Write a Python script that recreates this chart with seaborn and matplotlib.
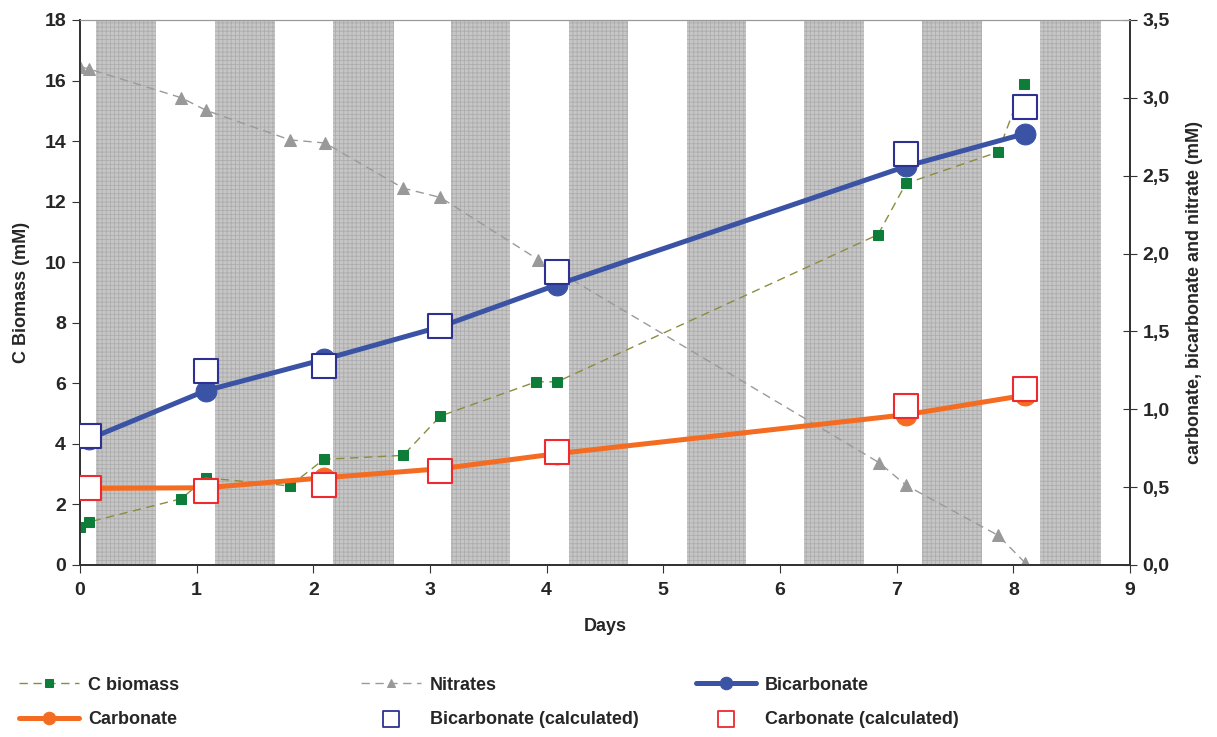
import numpy as np
import pandas as pd
import matplotlib
matplotlib.use("Agg")
import matplotlib.pyplot as plt
from matplotlib.lines import Line2D
from matplotlib.ticker import FuncFormatter, MultipleLocator
import seaborn as sns

# --- data ---
# dark periods (shaded bands), in days
night_start = [0.14, 1.16, 2.17, 3.18, 4.19, 5.20, 6.21, 7.22, 8.23]
night_end = [0.65, 1.67, 2.69, 3.69, 4.70, 5.71, 6.72, 7.73, 8.75]

# C biomass (left axis, mM)
bio_days = [0.0, 0.08, 0.87, 1.08, 1.80, 2.09, 2.77, 3.09, 3.91, 4.09, 6.84, 7.08, 7.87, 8.09]
bio_val = [1.25, 1.42, 2.19, 2.88, 2.61, 3.49, 3.62, 4.92, 6.05, 6.05, 10.91, 12.60, 13.64, 15.90]

# nitrates (right axis, mM)
nit_days = [0.0, 0.08, 0.87, 1.08, 1.80, 2.10, 2.77, 3.09, 3.93, 6.85, 7.08, 7.87, 8.10]
nit_val = [3.20, 3.185, 3.00, 2.92, 2.73, 2.71, 2.42, 2.36, 1.96, 0.657, 0.512, 0.19, 0.015]

# bicarbonate / carbonate measured and calculated (right axis, mM)
carb_days = [0.08, 1.08, 2.09, 3.09, 4.09, 7.08, 8.10]
bicarb_val = [0.81, 1.12, 1.32, 1.53, 1.80, 2.56, 2.77]
bicarb_calc = [0.83, 1.245, 1.277, 1.534, 1.88, 2.64, 2.944]
carb_val = [0.492, 0.496, 0.56, 0.618, 0.715, 0.965, 1.09]
carb_calc = [0.492, 0.475, 0.513, 0.603, 0.725, 1.021, 1.133]

sns.set_style("ticks")
plt.rcParams["font.family"] = ["Liberation Sans", "DejaVu Sans"]
plt.rcParams["font.weight"] = "bold"
plt.rcParams["hatch.linewidth"] = 0.6

fig = plt.figure(figsize=(12.17, 7.37), dpi=100)
ax = fig.add_axes([0.0657, 0.2334, 0.8628, 0.7395])
ax2 = ax.twinx()

# night bands
for s, e in zip(night_start, night_end):
    ax.axvspan(s, e, facecolor="#c6c6c6", edgecolor="#adadad", hatch="++++",
               lw=0, zorder=0)

# left axis: C biomass
sns.lineplot(x=bio_days, y=bio_val, ax=ax, color="#8c8c3c", lw=1, linestyle=(0, (6, 4)),
             marker="s", markersize=7, markerfacecolor="#0e7d3a", markeredgecolor="#0e7d3a",
             label="C biomass", sort=False, zorder=3)

# right axis
sns.lineplot(x=nit_days, y=nit_val, ax=ax2, color="#9a9a9a", lw=1, linestyle=(0, (6, 4)),
             marker="^", markersize=8, markerfacecolor="#999999", markeredgecolor="#999999",
             label="Nitrates", sort=False)
sns.lineplot(x=carb_days, y=bicarb_val, ax=ax2, color="#3a53a4", lw=3.6,
             marker="o", markersize=15, markeredgecolor="#3a53a4",
             label="Bicarbonate", sort=False)
sns.lineplot(x=carb_days, y=carb_val, ax=ax2, color="#f36c21", lw=3.6,
             marker="o", markersize=15, markeredgecolor="#f36c21",
             label="Carbonate", sort=False)
sns.scatterplot(x=carb_days, y=bicarb_calc, ax=ax2, marker="s", s=300,
                facecolor="white", edgecolor="#2e3192", linewidth=1.5,
                label="Bicarbonate (calculated)", zorder=5)
sns.scatterplot(x=carb_days, y=carb_calc, ax=ax2, marker="s", s=300,
                facecolor="white", edgecolor="#ee2a2f", linewidth=1.5,
                label="Carbonate (calculated)", zorder=5)

for a in (ax, ax2):
    if a.get_legend() is not None:
        a.get_legend().remove()

ax.set_xlim(0, 9)
ax.set_ylim(0, 18)
ax2.set_ylim(0, 3.5)
ax.xaxis.set_major_locator(MultipleLocator(1))
ax.yaxis.set_major_locator(MultipleLocator(2))
ax2.yaxis.set_major_locator(MultipleLocator(0.5))
ax2.yaxis.set_major_formatter(FuncFormatter(lambda v, p: f"{v:.1f}".replace(".", ",")))

ax.set_xlabel("Days", fontsize=13, fontweight="bold", labelpad=14)
ax.set_ylabel("C Biomass (mM)", fontsize=13, fontweight="bold", labelpad=10)
ax2.set_ylabel("carbonate, bicarbonate and nitrate (mM)", fontsize=13, fontweight="bold",
               labelpad=12)

ax.tick_params(axis="both", labelsize=14, direction="out", length=6, color="#333333", pad=6)
ax.tick_params(axis="y", pad=4)
ax2.tick_params(axis="y", labelsize=14, direction="inout", length=10, color="#333333", pad=4)
for lab in ax.get_xticklabels() + ax.get_yticklabels() + ax2.get_yticklabels():
    lab.set_fontweight("bold")

for a in (ax, ax2):
    a.spines["top"].set_visible(True)
    a.spines["top"].set_color("#999999")
    a.spines["left"].set_color("#333333")
    a.spines["right"].set_color("#333333")
    a.spines["bottom"].set_color("#333333")
    a.spines["left"].set_linewidth(1.3)
    a.spines["right"].set_linewidth(1.3)
    a.spines["bottom"].set_linewidth(1.3)

# legends: three columns of two entries
h1, l1 = ax.get_legend_handles_labels()
h2, l2 = ax2.get_legend_handles_labels()
hd = dict(zip(l1 + l2, h1 + h2))
legend_msize = {"C biomass": 6, "Nitrates": 6, "Bicarbonate": 9, "Carbonate": 9}
cols = [(["C biomass", "Carbonate"], 0.016),
        (["Nitrates", "Bicarbonate (calculated)"], 0.297),
        (["Bicarbonate", "Carbonate (calculated)"], 0.572)]
for labels, xpos in cols:
    leg = fig.legend([hd[k] for k in labels], labels, loc="center left",
                     bbox_to_anchor=(xpos, 0.047), frameon=False, fontsize=13,
                     handlelength=3.3, handletextpad=0.5, labelspacing=0.95,
                     borderpad=0, borderaxespad=0)
    for t in leg.get_texts():
        t.set_fontweight("bold")
    for h, k in zip(leg.legend_handles, labels):
        if isinstance(h, Line2D):
            h.set_markersize(legend_msize[k])
        else:
            h.set_sizes([130])
            h.set_linewidth(1.3)

fig.savefig("out.png", dpi=100)
